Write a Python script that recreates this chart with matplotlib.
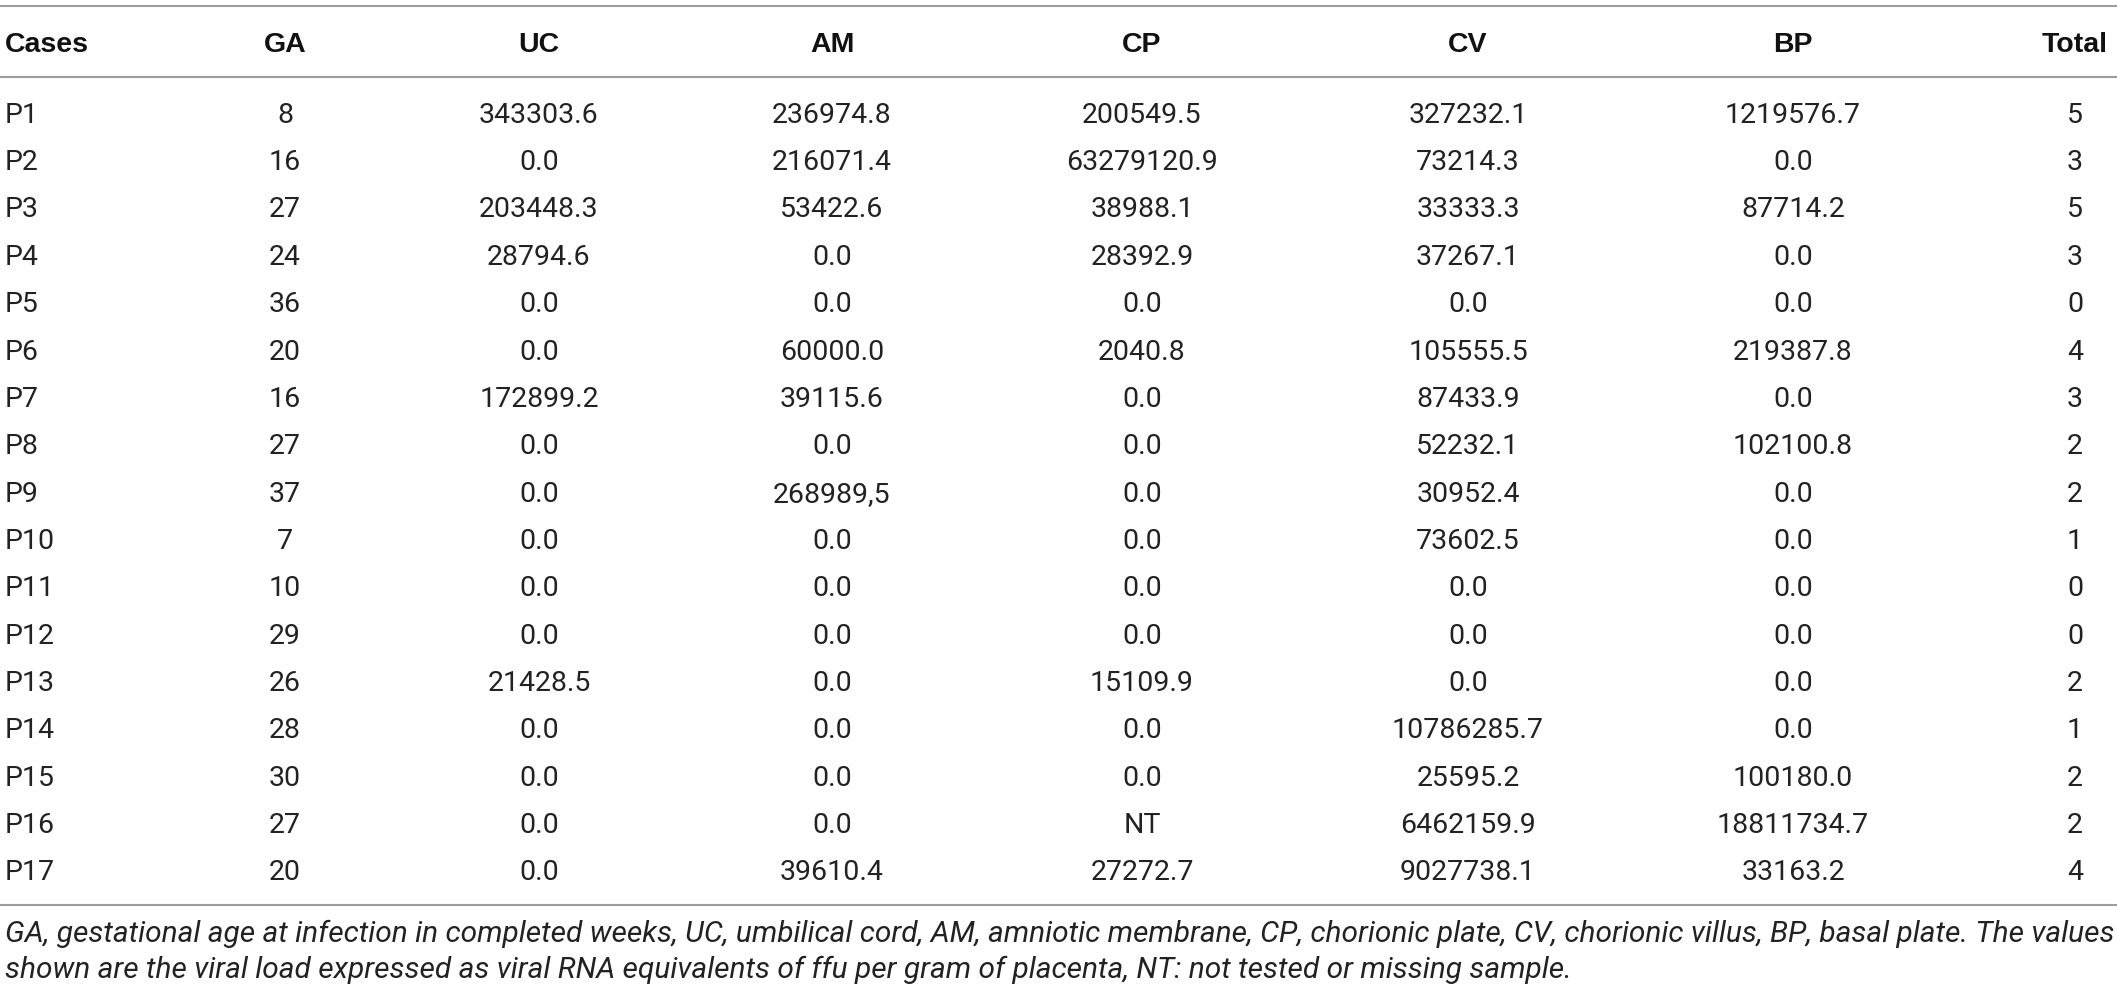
import matplotlib
matplotlib.use("Agg")
import matplotlib.pyplot as plt
from matplotlib.lines import Line2D

# ---- data ----
headers = ["Cases", "GA", "UC", "AM", "CP", "CV", "BP", "Total"]
cases = ["P1", "P2", "P3", "P4", "P5", "P6", "P7", "P8", "P9", "P10",
         "P11", "P12", "P13", "P14", "P15", "P16", "P17"]
ga = ["8", "16", "27", "24", "36", "20", "16", "27", "37", "7",
      "10", "29", "26", "28", "30", "27", "20"]
uc = ["343303.6", "0.0", "203448.3", "28794.6", "0.0", "0.0", "172899.2", "0.0", "0.0", "0.0",
      "0.0", "0.0", "21428.5", "0.0", "0.0", "0.0", "0.0"]
am = ["236974.8", "216071.4", "53422.6", "0.0", "0.0", "60000.0", "39115.6", "0.0", "268989,5", "0.0",
      "0.0", "0.0", "0.0", "0.0", "0.0", "0.0", "39610.4"]
cp = ["200549.5", "63279120.9", "38988.1", "28392.9", "0.0", "2040.8", "0.0", "0.0", "0.0", "0.0",
      "0.0", "0.0", "15109.9", "0.0", "0.0", "NT", "27272.7"]
cv = ["327232.1", "73214.3", "33333.3", "37267.1", "0.0", "105555.5", "87433.9", "52232.1", "30952.4", "73602.5",
      "0.0", "0.0", "0.0", "10786285.7", "25595.2", "6462159.9", "9027738.1"]
bp = ["1219576.7", "0.0", "87714.2", "0.0", "0.0", "219387.8", "0.0", "102100.8", "0.0", "0.0",
      "0.0", "0.0", "0.0", "0.0", "100180.0", "18811734.7", "33163.2"]
total = ["5", "3", "5", "3", "0", "4", "3", "2", "2", "1",
         "0", "0", "2", "1", "2", "2", "4"]
footnote1 = ("GA, gestational age at infection in completed weeks, UC, umbilical cord, AM, amniotic "
             "membrane, CP, chorionic plate, CV, chorionic villus, BP, basal plate. The values")
footnote2 = ("shown are the viral load expressed as viral RNA equivalents of ffu per gram of placenta, "
             "NT: not tested or missing sample.")

columns = [cases, ga, uc, am, cp, cv, bp, total]

# ---- layout (pixels) ----
W, H = 2117, 991
fig = plt.figure(figsize=(W / 100, H / 100), dpi=100)
ax = fig.add_axes([0, 0, 1, 1])
ax.set_xlim(0, W)
ax.set_ylim(H, 0)
ax.axis("off")

col_x = [5, 285, 539, 832, 1142, 1468, 1793, 2075]
col_ha = ["left"] + ["center"] * 7

body_font = dict(family=["Roboto", "Liberation Sans", "DejaVu Sans"], weight="normal")
head_font = dict(family=["Liberation Sans", "DejaVu Sans"], weight="bold")
body_color = "#222222"
rule_color = "#9d9d9d"

fs_body = 20.5
fs_head = 20.5
cap_px = 0.72 * fs_body * 100 / 72  # approximate cap height in px

top_rule, head_rule, bottom_rule = 6, 77, 905
head_y = 42
row0, row_step = 112.5, 47.35

for y in (top_rule, head_rule, bottom_rule):
    ax.add_line(Line2D([0, W], [y, y], color=rule_color, lw=1.5))

for x, ha, h in zip(col_x, col_ha, headers):
    ax.text(x, head_y + cap_px / 2, h, ha=ha, va="baseline", fontsize=fs_head,
            color="#111111", **head_font)

for x, ha, col in zip(col_x, col_ha, columns):
    for i, v in enumerate(col):
        y = row0 + i * row_step
        ax.text(x, y + cap_px / 2, v, ha=ha, va="baseline", fontsize=fs_body,
                color=body_color, **body_font)

# footnote: italic, first line spans the full width
fs_fn = 18.0
t1 = ax.text(5, 934 + 6, footnote1, ha="left", va="baseline", fontsize=fs_fn,
             style="italic", color=body_color, **body_font)
fig.canvas.draw()
w = t1.get_window_extent().width
fs_fn = fs_fn * (2107 / w)
t1.set_fontsize(fs_fn)
xh = 0.52 * fs_fn * 100 / 72
t1.set_y(934 + xh / 2)
ax.text(5, 970 + xh / 2, footnote2, ha="left", va="baseline", fontsize=fs_fn,
        style="italic", color=body_color, **body_font)

fig.savefig("out.png", dpi=100)
